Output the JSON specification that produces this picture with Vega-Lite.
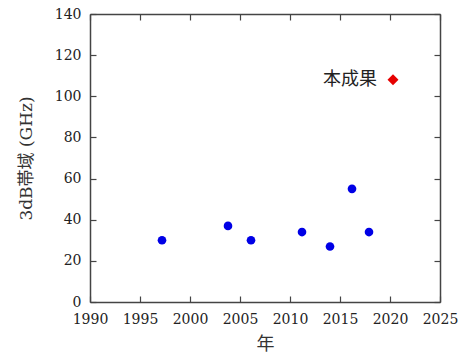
{
  "$schema": "https://vega.github.io/schema/vega-lite/v6.json",
  "width": 350,
  "height": 288,
  "autosize": "none",
  "padding": {"left": 90, "top": 14, "right": 20, "bottom": 56},
  "config": {
    "view": {"stroke": null},
    "axis": {
      "grid": false,
      "domainColor": "#444",
      "domainWidth": 1.5,
      "tickColor": "#444",
      "tickWidth": 1.2,
      "tickSize": -6,
      "labelFlush": false,
      "labelFont": "DejaVu Serif",
      "labelFontSize": 14,
      "labelColor": "#222",
      "titleFontSize": 18,
      "titleFontWeight": "normal",
      "titleColor": "#333"
    }
  },
  "data": {
    "values": [
      {"year": 1997.2, "bw": 30, "kind": "prior", "label": ""},
      {"year": 2003.8, "bw": 37, "kind": "prior", "label": ""},
      {"year": 2006.1, "bw": 30, "kind": "prior", "label": ""},
      {"year": 2011.2, "bw": 34, "kind": "prior", "label": ""},
      {"year": 2014.0, "bw": 27, "kind": "prior", "label": ""},
      {"year": 2016.2, "bw": 55, "kind": "prior", "label": ""},
      {"year": 2017.9, "bw": 34, "kind": "prior", "label": ""},
      {"year": 2020.3, "bw": 108, "kind": "this", "label": "本成果"}
    ]
  },
  "layer": [
    {
      "transform": [{"filter": "datum.kind === 'prior'"}],
      "mark": {"type": "point", "shape": "circle", "filled": true, "opacity": 1, "size": 75, "color": "#0000e6"},
      "encoding": {
        "x": {"field": "year", "type": "quantitative",
          "scale": {"domain": [1990, 2025], "nice": false, "zero": false},
          "axis": {"orient": "bottom", "values": [1990,1995,2000,2005,2010,2015,2020,2025], "format": "d", "labelPadding": 16, "title": "年", "titleFont": "Noto Sans CJK JP", "titleX": 175, "titleY": 42, "titleBaseline": "middle"}},
        "y": {"field": "bw", "type": "quantitative",
          "scale": {"domain": [0, 140], "nice": false},
          "axis": {"orient": "left", "values": [0,20,40,60,80,100,120,140], "labelPadding": 15, "title": "3dB帯域 (GHz)", "titleFont": "DejaVu Serif, Noto Sans CJK JP", "titleFontSize": 17, "titleX": -64, "titleY": 144, "titleAngle": -90, "titleAlign": "center", "titleBaseline": "middle"}}
      }
    },
    {
      "transform": [{"filter": "datum.kind === 'this'"}],
      "mark": {"type": "point", "shape": "diamond", "filled": true, "opacity": 1, "size": 120, "color": "#e60000"},
      "encoding": {
        "x": {"field": "year", "type": "quantitative",
          "scale": {"domain": [1990, 2025], "nice": false, "zero": false},
          "axis": {"orient": "top", "values": [1990,1995,2000,2005,2010,2015,2020,2025], "labels": false, "title": null}},
        "y": {"field": "bw", "type": "quantitative",
          "scale": {"domain": [0, 140], "nice": false},
          "axis": {"orient": "right", "values": [0,20,40,60,80,100,120,140], "labels": false, "title": null}}
      }
    },
    {
      "transform": [{"filter": "datum.kind === 'this'"}],
      "mark": {"type": "text", "align": "right", "baseline": "middle", "dx": -16, "font": "Noto Sans CJK JP", "fontSize": 18, "color": "#222"},
      "encoding": {
        "x": {"field": "year", "type": "quantitative", "axis": null},
        "y": {"field": "bw", "type": "quantitative", "axis": null},
        "text": {"field": "label"}
      }
    }
  ],
  "resolve": {"axis": {"x": "independent", "y": "independent"}}
}
